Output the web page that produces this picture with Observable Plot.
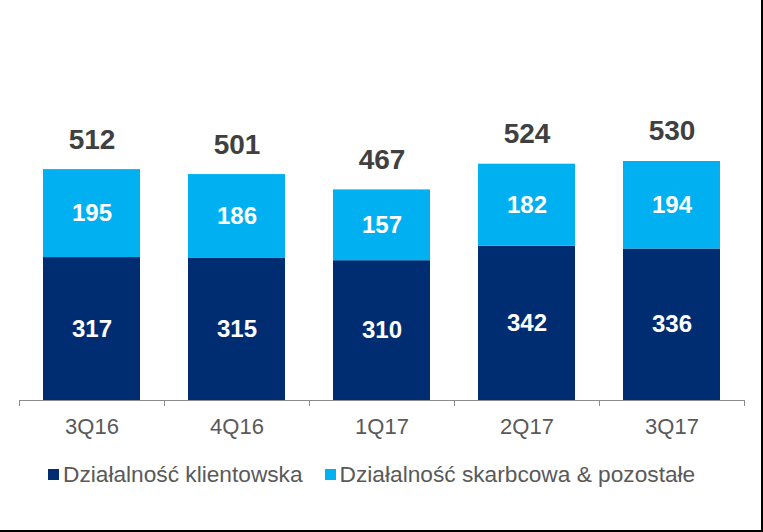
<!DOCTYPE html>
<html><head><meta charset="utf-8">
<script src="https://cdn.jsdelivr.net/npm/d3@7"></script>
<script src="https://cdn.jsdelivr.net/npm/@observablehq/plot@0.6"></script>
<style>
body{margin:0;background:#fff;}
#wrap{position:relative;width:763px;height:532px;overflow:hidden;font-family:"Liberation Sans",Arial,sans-serif;background:#fff;}
#frame{position:absolute;left:0;top:0;width:763px;height:532px;box-sizing:border-box;border-right:2px solid #000;border-bottom:2px solid #000;pointer-events:none;}
.legend{display:flex;align-items:center;margin-top:16px;padding-left:48px;height:26px;font-size:22.7px;color:#595959;white-space:nowrap;}
.item{display:flex;align-items:center;margin-right:22px;}
.sw{width:11px;height:11px;margin-right:4px;}
svg{display:block;}
</style></head>
<body>
<div id="wrap"><div id="chart"></div><div class="legend" id="legend"></div><div id="frame"></div></div>
<script>
const quarters = ["3Q16", "4Q16", "1Q17", "2Q17", "3Q17"];
const series = ["Działalność klientowska", "Działalność skarbcowa & pozostałe"];
const klientowska = [317, 315, 310, 342, 336];
const skarbcowa = [195, 186, 157, 182, 194];
const totals = [512, 501, 467, 524, 530];
const colors = ["#002D72", "#00B0F0"];

const rows = [];
quarters.forEach((q, i) => {
  rows.push({q, s: series[0], v: klientowska[i]});
  rows.push({q, s: series[1], v: skarbcowa[i]});
});
const totalRows = quarters.map((q, i) => ({q, t: totals[i]}));

const font = '"Liberation Sans", Arial, sans-serif';
const chart = Plot.plot({
  width: 763,
  height: 445,
  marginLeft: 19,
  marginRight: 19,
  marginTop: 0,
  marginBottom: 39,
  style: {fontFamily: font, background: "transparent"},
  x: {domain: quarters, paddingInner: 0.33, paddingOuter: 0.165},
  y: {domain: [-13.3, 887], axis: null},
  color: {domain: series, range: colors},
  marks: [
    Plot.barY(rows, {x: "q", y: "v", fill: "s"}),
    Plot.text(rows, Plot.stackY({x: "q", y: "v", z: "s", text: "v", fill: "white", fontWeight: "bold", fontSize: 24})),
    Plot.text(totalRows, {x: "q", y: "t", text: "t", dy: -30, fill: "#404040", fontWeight: "bold", fontSize: 28}),
    Plot.ruleY([0], {stroke: "#8c8c8c", strokeWidth: 1}),
    Plot.ruleX(quarters, {x: d => d, y1: 0, y2: -13.3, dx: -72.5, stroke: "#8c8c8c"}),
    Plot.ruleX(quarters.slice(-1), {x: d => d, y1: 0, y2: -13.3, dx: 72.5, stroke: "#8c8c8c"}),
    Plot.axisX({tickSize: 0, tickPadding: 12, fontSize: 22, color: "#595959", label: null})
  ]
});
document.getElementById("chart").appendChild(chart);

const legend = document.getElementById("legend");
series.forEach((s, i) => {
  const it = document.createElement("div");
  it.className = "item";
  const sw = document.createElement("div");
  sw.className = "sw";
  sw.style.background = colors[i];
  const t = document.createElement("span");
  t.textContent = s;
  it.appendChild(sw);
  it.appendChild(t);
  legend.appendChild(it);
});
</script>
</body></html>
